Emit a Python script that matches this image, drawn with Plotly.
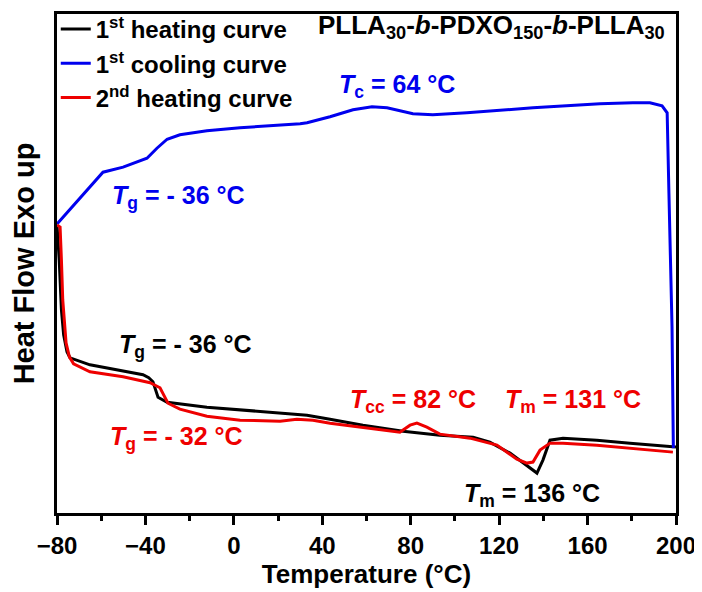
import plotly.graph_objects as go

# ---- data ----
T_heat1 = [-80, -79.0, -78.0, -77.0, -75.5, -74.1, -65.1, -50.1, -41.1, -38.5, -36.6, -34.3, -30.2,
           -12.2, 17.7, 33.1, 43.5, 58.4, 76.5, 93.2, 108.2, 115.8, 124.9, 130.8, 137.1, 139.8,
           143.0, 148.9, 164.2, 179.2, 200]
H_heat1 = [57.7, 50.7, 40.7, 35.7, 32.3, 31.1, 29.7, 28.5, 27.7, 27.1, 26.3, 23.2, 22.2,
           21.2, 20.2, 19.6, 18.8, 17.6, 16.4, 15.6, 15.2, 14.2, 12.0, 10.0, 8.0, 10.6,
           14.6, 15.0, 14.6, 14.0, 13.2]

T_cool = [-80, -59.2, -50.1, -39.3, -34.8, -30.2, -24.4, -12.2, 2.8, 17.7, 30.0, 33.1, 43.5,
          53.9, 62.5, 69.3, 81.0, 90.0, 105.4, 135.3, 165.6, 180.5, 188.2, 193.7, 196.0,
          196.8, 198.2, 198.8]
H_cool = [57.9, 68.3, 69.3, 71.1, 73.1, 74.9, 75.8, 76.6, 77.2, 77.6, 78.0, 78.2, 79.4,
          80.8, 81.4, 81.2, 80.0, 79.8, 80.2, 81.2, 82.0, 82.2, 82.2, 81.6, 80.2,
          64.1, 37.3, 13.0]

T_heat2 = [-80, -78.6, -78.0, -77.4, -75.9, -74.4, -72.5, -65.1, -50.1, -37.9, -33.4, -29.8,
           -24.4, -12.2, 2.8, 20.9, 28.5, 35.8, 43.5, 58.4, 75.1, 79.7, 82.8, 87.3, 93.2,
           106.8, 119.0, 128.0, 132.6, 135.3, 138.5, 143.0, 148.9, 164.2, 179.2, 198.6]
H_heat2 = [57.7, 57.3, 50.7, 42.7, 34.1, 31.3, 29.9, 28.3, 27.3, 26.1, 25.1, 22.0,
           20.8, 19.4, 18.6, 18.4, 18.8, 18.6, 18.0, 17.2, 16.2, 17.6, 18.0, 17.2, 15.8,
           15.0, 13.6, 10.8, 10.0, 10.2, 12.6, 14.0, 14.0, 13.6, 13.0, 12.2]

series_names = ["1<sup>st</sup> heating curve", "1<sup>st</sup> cooling curve", "2<sup>nd</sup> heating curve"]
series_colors = ["#000000", "#0000ee", "#ee0000"]

x_ticks = [-80, -40, 0, 40, 80, 120, 160, 200]
x_ticktext = ["\u221280", "\u221240", "0", "40", "80", "120", "160", "200"]

FONT = "Liberation Sans, Arial, Helvetica, sans-serif"

fig = go.Figure()
for T, H, name, col in [(T_heat1, H_heat1, series_names[0], series_colors[0]),
                        (T_cool, H_cool, series_names[1], series_colors[1]),
                        (T_heat2, H_heat2, series_names[2], series_colors[2])]:
    fig.add_trace(go.Scatter(x=T, y=H, mode="lines", name=name,
                             line=dict(color=col, width=3)))

def ann(x, y, text, color, anchor="left", size=25):
    fig.add_annotation(x=x, y=y, xref="x", yref="y", text=text, showarrow=False,
                       xanchor=anchor, yanchor="middle",
                       font=dict(family=FONT, size=size, color=color, weight="bold"))

ann(196.0, 97.4, "PLLA<sub>30</sub>-<i>b</i>-PDXO<sub>150</sub>-<i>b</i>-PLLA<sub>30</sub>", "#000000", anchor="right", size=26)
ann(46.6, 85.6, "<i>T</i><sub>c</sub> = 64 °C", series_colors[1])
ann(-56.0, 63.4, "<i>T</i><sub>g</sub> = - 36 °C", series_colors[1])
ann(-52.9, 33.5, "<i>T</i><sub>g</sub> = - 36 °C", "#000000")
ann(-56.9, 15.0, "<i>T</i><sub>g</sub> = - 32 °C", series_colors[2])
ann(51.6, 22.5, "<i>T</i><sub>cc</sub> = 82 °C", series_colors[2])
ann(121.7, 22.5, "<i>T</i><sub>m</sub> = 131 °C", series_colors[2])
ann(103.1, 3.6, "<i>T</i><sub>m</sub> = 136 °C", "#000000")

# page body has an 8px margin, so the figure is 8px smaller and shifted
fig.update_layout(
    width=694, height=584,
    margin=dict(l=49, r=26, t=6, b=79, autoexpand=False),
    paper_bgcolor="white", plot_bgcolor="white",
    font=dict(family=FONT, color="black", weight="bold"),
    showlegend=True,
    legend=dict(x=-0.002, y=1.014, xanchor="left", yanchor="top",
                bgcolor="rgba(0,0,0,0)", borderwidth=0,
                font=dict(family=FONT, size=24, color="black", weight="bold"),
                tracegroupgap=0, itemwidth=30),
    xaxis=dict(range=[-80, 200], tickmode="array", tickvals=x_ticks, ticktext=x_ticktext,
               automargin=False,
               showline=True, linecolor="black", linewidth=2.5, mirror=True,
               ticks="outside", ticklen=9, tickwidth=2.5, tickcolor="black",
               minor=dict(dtick=20, ticks="outside", ticklen=5, tickwidth=2.5, tickcolor="black"),
               showgrid=False, zeroline=False,
               tickfont=dict(family=FONT, size=24, color="black", weight="bold"),
               title=dict(text="Temperature (°C)", standoff=6,
                          font=dict(family=FONT, size=26, color="black", weight="bold"))),
    yaxis=dict(range=[0, 100], automargin=False,
               showline=True, linecolor="black", linewidth=2.5, mirror=True,
               showticklabels=False, ticks="", showgrid=False, zeroline=False,
               title=dict(text="Heat Flow Exo up", standoff=22,
                          font=dict(family=FONT, size=29, color="black", weight="bold"))),
)

fig.write_html("out.html")
